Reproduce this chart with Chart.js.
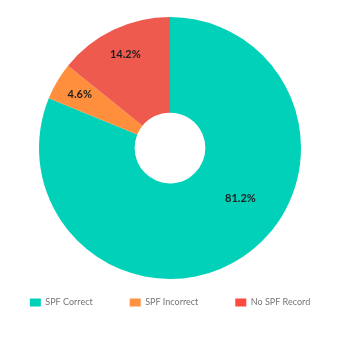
<!DOCTYPE html>
<html>
<head>
<meta charset="utf-8">
<script src="https://cdn.jsdelivr.net/npm/chart.js@4/dist/chart.umd.min.js"></script>
<style>
  html, body { margin: 0; padding: 0; background: #ffffff; }
  #wrap { width: 340px; height: 344px; position: relative; }
</style>
</head>
<body>
<div id="wrap"><canvas id="c" width="340" height="344"></canvas></div>
<script>
const categories = ["SPF Correct", "SPF Incorrect", "No SPF Record"];
const values = [81.2, 4.6, 14.2];
const valueLabels = ["81.2%", "4.6%", "14.2%"];
const sliceColors = ["#00d1b8", "#ff8f3c", "#ef5a4e"];
const legendColors = ["#00d1b8", "#ff9142", "#ff4a3f"];

const sliceLabelPlugin = {
  id: 'sliceLabels',
  afterDatasetsDraw(chart, args, opts) {
    const ctx = chart.ctx;
    const meta = chart.getDatasetMeta(0);
    ctx.save();
    ctx.font = opts.font;
    ctx.fillStyle = opts.color;
    ctx.textAlign = 'center';
    ctx.textBaseline = 'middle';
    meta.data.forEach((arc, i) => {
      const p = arc.getProps(['x', 'y', 'startAngle', 'endAngle', 'outerRadius'], true);
      const place = opts.placement[i];
      const a = p.startAngle + (p.endAngle - p.startAngle) * place.t;
      const r = p.outerRadius * place.r;
      ctx.fillText(valueLabels[i], p.x + Math.cos(a) * r, p.y + Math.sin(a) * r);
    });
    ctx.restore();
  }
};

new Chart(document.getElementById('c'), {
  type: 'doughnut',
  data: {
    labels: categories,
    datasets: [{
      data: values,
      backgroundColor: sliceColors,
      borderWidth: 0,
      hoverOffset: 0
    }]
  },
  options: {
    responsive: false,
    animation: false,
    cutout: '27%',
    layout: { padding: { top: 17, bottom: 27, left: 0, right: 0 } },
    plugins: {
      tooltip: { enabled: false },
      legend: {
        position: 'bottom',
        labels: {
          boxWidth: 11,
          boxHeight: 8,
          padding: 19,
          color: '#757575',
          font: { family: 'Lato', size: 9 },
          generateLabels(chart) {
            const items = Chart.overrides.doughnut.plugins.legend.labels.generateLabels(chart);
            return items.map((it, i) => {
              it.fillStyle = legendColors[i];
              it.strokeStyle = legendColors[i];
              it.lineWidth = 0;
              if (i < items.length - 1) it.text = it.text + '\u2003\u2003\u2002';
              return it;
            });
          }
        }
      },
      sliceLabels: {
        font: 'bold 11px Lato',
        color: '#1e1e1e',
        placement: [{ t: 0.43, r: 0.662 }, { t: 0.5, r: 0.80 }, { t: 0.5, r: 0.79 }]
      }
    }
  },
  plugins: [sliceLabelPlugin]
});
</script>
</body>
</html>
